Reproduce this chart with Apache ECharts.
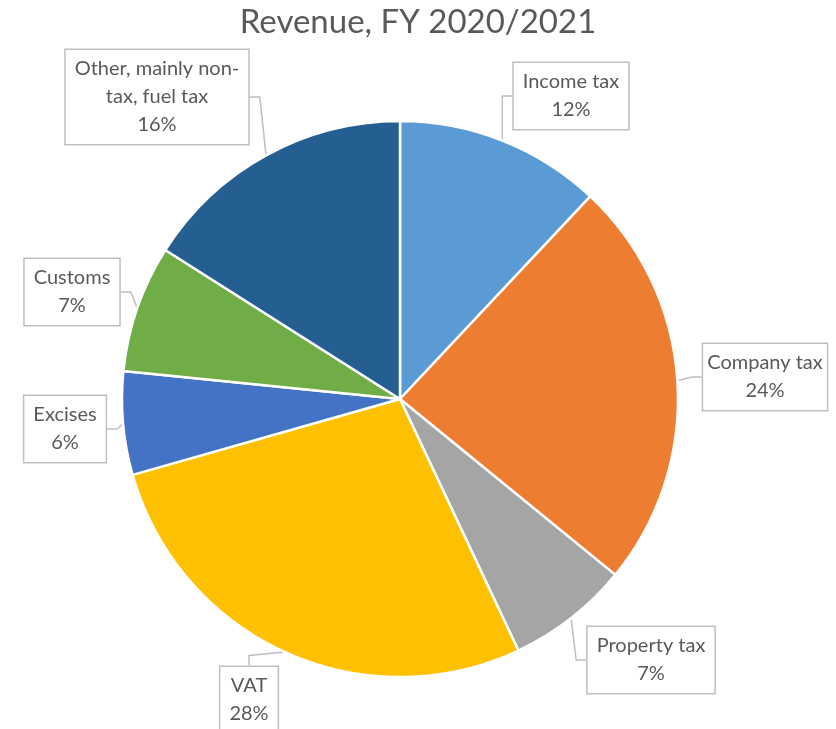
<!DOCTYPE html>
<html>
<head>
<meta charset="utf-8">
<script src="https://cdn.jsdelivr.net/npm/echarts@6/dist/echarts.min.js"></script>
<style>
html,body{margin:0;padding:0;background:#fff;}
#chart{width:836px;height:729px;}
</style>
</head>
<body>
<div id="chart"></div>
<script>
const categories = ['Income tax','Company tax','Property tax','VAT','Excises','Customs','Other, mainly non-\ntax, fuel tax'];
const values = [12.0,23.9,7.1,27.6,6.0,7.4,16.0];
const colors = ['#5B9BD5','#ED7D31','#A5A5A5','#FFC000','#4472C4','#70AD47','#255E91'];
// callout box centres, where Excel put them
const calloutPos = [[571,96],[765,377],[651,660],[249,700],[65,429],[72,292],[157,97]];

const chart = echarts.init(document.getElementById('chart'));
chart.setOption({
    animation:false,
    color:colors,
    title:{
        text:'Revenue, FY 2020/2021',
        left:'center',
        top:1,
        textStyle:{
            color:'#595959',
            fontFamily:'Lato',
            fontWeight:'normal',
            fontSize:33
        }
    },
    series:[{
        type:'pie',
        center:[400,399],
        radius:[0,278],
        startAngle:90,
        clockwise:true,
        itemStyle:{
            borderColor:'#fff',
            borderWidth:2.5
        },
        label:{
            show:true,
            position:'outside',
            overflow:'none',
            formatter:function(p){ return p.name+'\n'+Math.round(p.percent)+'%'; },
            color:'#595959',
            fontFamily:'Lato',
            fontSize:20,
            lineHeight:28,
            align:'center',
            backgroundColor:'#fff',
            borderColor:'#BFBFBF',
            borderWidth:1.5,
            padding:[5,9,5,9]
        },
        labelLine:{
            show:true,
            length:10,
            length2:10,
            lineStyle:{color:'#BFBFBF',width:1.5}
        },
        labelLayout:function(p){
            const pos = calloutPos[p.dataIndex];
            return {x:pos[0],y:pos[1],align:'center',verticalAlign:'middle'};
        },
        data:categories.map(function(c,i){ return {name:c,value:values[i]}; })
    }]
});
window.addEventListener('resize',function(){ chart.resize(); });
</script>
</body>
</html>
